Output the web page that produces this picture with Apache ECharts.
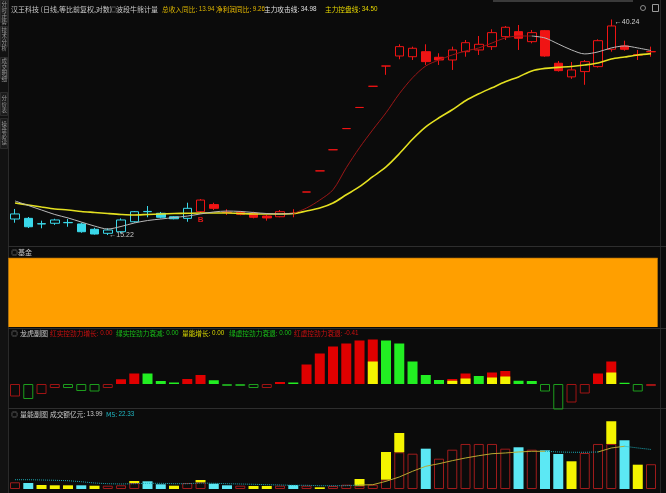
<!DOCTYPE html>
<html><head><meta charset="utf-8">
<script src="https://cdn.jsdelivr.net/npm/echarts@6/dist/echarts.min.js"></script>
<style>html,body{margin:0;padding:0;background:#0b0b0b;overflow:hidden}#c{width:666px;height:493px}</style>
</head><body><div id="c"></div>
<script>
// ---------- data ----------
const days = ['1','2','3','4','5','6','7','8','9','10','11','12','13','14','15','16','17','18','19','20','21','22','23','24','25','26','27','28','29','30','31','32','33','34','35','36','37','38','39','40','41','42','43','44','45','46','47','48','49'];
const openP  = [16.36,16.41,16.02,16.05,16.09,16.00,15.62,15.34,15.45,16.16,16.91,16.79,16.53,16.41,16.91,17.46,16.88,16.86,16.79,16.58,16.53,16.77,18.48,20.33,22.36,24.60,27.06,29.77,32.62,34.13,34.02,34.80,33.93,33.52,34.80,35.07,35.60,37.24,38.09,36.41,38.26,33.03,31.06,31.81,32.53,35.18,35.71,34.32,34.78];
const closeP = [16.74,15.80,16.00,16.29,16.11,15.45,15.29,15.57,16.29,16.91,16.93,16.49,16.38,17.17,17.82,17.17,16.85,16.71,16.49,16.44,16.91,16.80,18.48,20.33,22.36,24.60,27.06,29.77,32.62,35.60,35.34,33.27,33.52,35.07,36.24,35.98,37.92,38.85,36.97,37.92,34.13,31.95,32.05,33.27,36.57,39.08,35.18,34.27,34.82];
const lowP   = [16.09,15.71,15.69,15.93,15.80,15.38,15.25,15.22,15.34,16.09,16.49,16.41,16.34,16.16,16.81,17.04,16.66,16.64,16.41,16.24,16.49,16.49,18.48,20.33,22.36,24.60,27.06,29.77,31.35,33.63,33.52,32.78,32.78,32.05,34.02,34.29,35.07,36.68,35.07,36.14,34.02,31.81,30.79,29.97,32.39,34.80,34.96,33.52,34.02];
const highP  = [17.12,16.51,16.24,16.38,16.36,16.09,15.73,15.69,16.41,16.96,17.35,16.89,16.58,17.61,17.90,17.61,17.10,16.97,16.91,16.68,17.04,17.10,18.48,20.33,22.36,24.60,27.06,29.77,32.62,35.98,35.60,35.98,34.55,35.60,36.68,37.35,38.50,39.08,39.25,38.38,38.38,33.37,33.22,33.52,36.80,40.24,36.57,35.07,35.60];
const band = ['bear','bear','bear','bear','bear','bear','bear','bear','bear','bear','bear','bear','bear','bear','bull','bull','bull','bull','bull','bull','bull','bull','bull','bull','bull','bull','bull','bull','bull','bull','bull','bull','bull','bull','bull','bull','bull','bull','bull','bull','bull','bull','bull','bull','bull','bull','bull','bull','bull'];
// 主力攻击线 (short line) and 主力控盘线 (yellow line)
const attackLine  = [17.75,17.39,17.04,16.70,16.44,16.14,15.85,15.64,15.82,16.07,16.25,16.36,16.47,16.58,16.74,16.89,16.96,16.93,16.85,16.77,16.74,16.77,17.19,17.82,18.67,20.62,22.57,24.47,26.42,28.78,30.93,32.63,33.52,34.29,34.91,35.39,36.19,37.02,37.35,37.35,37.02,36.03,35.07,34.45,34.76,35.39,35.71,35.39,34.98];
const controlLine = [17.59,17.43,17.27,17.12,17.04,16.93,16.85,16.77,16.70,16.66,16.70,16.74,16.77,16.79,16.81,16.81,16.81,16.77,16.74,16.74,16.74,16.77,16.96,17.19,17.59,18.25,18.93,19.80,20.70,21.96,23.45,24.80,25.83,26.78,27.89,28.78,29.57,30.38,31.06,31.91,32.27,32.42,32.56,32.78,33.07,33.67,33.98,34.29,34.50];
const attackRiseFrom = 21, attackRiseTo = 39; // segment drawn in dark red
// 基金 panel
const fund = [1,1,1,1,1,1,1,1,1,1,1,1,1,1,1,1,1,1,1,1,1,1,1,1,1,1,1,1,1,1,1,1,1,1,1,1,1,1,1,1,1,1,1,1,1,1,1,1,1];
// 龙虎副图
const lhType = ['红虚','绿虚','红虚','红虚','绿虚','绿虚','绿虚','红虚','红实','红实','绿实','绿实','绿实','红实','红实','绿实','绿虚','绿虚','绿虚','红虚','红实','绿实','红实','红实','红实','红实','红实','红实','绿实','绿实','绿实','绿实','绿实','红实','红实','绿实','红实','红实','绿实','绿实','绿虚','绿虚','红虚','红虚','红实','红实','绿实','绿虚','红虚'];
const lhValue = [-2.5,-3.0,-2.0,-0.8,-0.8,-1.4,-1.5,-0.8,0.95,2.1,2.1,0.6,0.3,1.0,1.8,0.75,-0.4,-0.4,-0.8,-0.8,0.4,0.3,3.9,6.1,7.5,8.1,8.7,8.9,8.7,8.1,4.5,1.8,0.8,1.0,2.1,1.6,2.3,2.6,0.65,0.6,-1.5,-5.1,-3.7,-1.9,2.1,4.5,0.25,-1.5,-0.41];
const lhYellow = [0,0,0,0,0,0,0,0,0,0,0,0,0,0,0,0,0,0,0,0,0,0,0,0,0,0,0,4.5,0,0,0,0,0,0.65,1.1,0,1.3,1.5,0,0,0,0,0,0,0,2.3,0,0,0];
// 量能副图 (成交额 亿元)
const amount = [3.79,3.39,2.26,2.09,2.09,2.09,1.86,1.86,2.09,4.52,4.35,2.66,1.86,3.39,5.09,2.99,2.09,1.86,1.70,1.70,1.86,2.26,1.86,0.96,1.70,2.43,5.65,2.43,20.90,31.64,19.94,22.77,17.12,22.20,25.43,25.43,25.43,22.77,23.56,22.20,21.87,19.78,15.65,20.34,25.43,38.26,27.52,13.73,13.99];
const amountExtra = [0,0,0,0,0,0,0,0,0,1.13,0,0,0,0,1.30,0,0,0,0,0,0,0,0,0,0,0,3.79,0,15.65,10.90,0,0,0,0,0,0,0,0,0,0,0,0,0,0,0,12.83,0,0,0];
const amountKind = ['up','down','shrink','shrink','shrink','down','shrink','up','up','up','down','down','shrink','up','up','down','down','up','shrink','shrink','up','down','up','shrink','up','up','up','up','up','up','up','down','up','up','up','up','up','up','down','up','down','down','shrink','up','up','up','down','shrink','up'];
const m5 = [5.25,5.25,5.09,4.92,4.69,4.12,3.39,2.99,2.83,2.99,3.22,3.22,2.99,2.99,3.39,3.22,2.99,2.83,2.66,2.43,2.26,2.09,2.09,1.86,1.86,1.86,2.26,2.43,4.35,6.78,10.00,12.83,14.29,15.99,17.52,18.81,19.94,20.34,20.91,21.30,21.30,20.91,20.74,20.74,20.91,23.17,24.13,23.17,22.33];
const m5RiseRanges = [[26,40],[44,46]];

// ---------- build ----------
const N = days.length;
const F = '"Noto Sans CJK SC", "Noto Sans", sans-serif';
const FN = '"Liberation Sans", Arial, sans-serif';
const RED = '#f01414', CYAN = '#3ad8ea', BG = '#0b0b0b', ORANGE = '#ff9f00';
const candle = days.map((d,i)=>{
  const c = band[i]==='bull' ? RED : CYAN;
  const up = closeP[i] > openP[i] || (closeP[i] === openP[i] && i>0 && closeP[i] > closeP[i-1]);
  const fill = up ? BG : c;
  return {value:[openP[i],closeP[i],lowP[i],highP[i]],
          itemStyle:{color:fill, color0:fill, borderColor:c, borderColor0:c, borderWidth:1}};
});
const attackGray = attackLine.map((v,i)=> (i<=attackRiseFrom||i>=attackRiseTo)?v:null);
const attackRed  = attackLine.map((v,i)=> (i>=attackRiseFrom&&i<=attackRiseTo)?v:null);
const inRise = i => m5RiseRanges.some(r=>i>=r[0]&&i<=r[1]);
const inFall = i => !m5RiseRanges.some(r=>i>r[0]&&i<r[1]);
const m5Rise = m5.map((v,i)=> inRise(i)?v:null);
const m5Fall = m5.map((v,i)=> inFall(i)?v:null);
const pick = (arr, t, key) => arr.map((v,i)=> key[i]===t ? v : null);
const volUp = amount.map((v,i)=> amountKind[i]==='up' ? +(v-amountExtra[i]).toFixed(2) : null);
const volDown = pick(amount,'down',amountKind);
const volShrink = pick(amount,'shrink',amountKind);
const volTop = amountExtra.map(v=> v>0 ? v : null);
const lhYellowData = lhYellow.map(v=> v>0 ? v : null);

const GL = 8.4, GW = 649.25;
const grids = [
  {left:GL, width:GW, top:12, height:230},
  {left:GL, width:GW, top:258, height:69},
  {left:GL, width:GW, top:335, height:75},
  {left:GL, width:GW, top:421, height:68}
];
const xAxes = grids.map((g,k)=>({type:'category', gridIndex:k, data:days, boundaryGap:k!==1, show:false}));
const hiddenY = {show:false, splitLine:{show:false}};
const yAxes = [
  Object.assign({type:'log', gridIndex:0, min:14.75, max:41.62, logBase:10}, hiddenY),
  Object.assign({type:'value', gridIndex:1, min:0, max:1}, hiddenY),
  Object.assign({type:'value', gridIndex:2, min:-5.2, max:9.8}, hiddenY),
  Object.assign({type:'value', gridIndex:3, min:0, max:38.4}, hiddenY)
];
const lhBar = (name, type, filled, color) => ({
  name, type:'bar', xAxisIndex:2, yAxisIndex:2, barWidth:10, barGap:'-100%',
  data: pick(lhValue, type, lhType),
  itemStyle: filled ? {color} : {color:'rgba(0,0,0,0)', borderColor:color, borderWidth:1},
  silent:true
});
const lastIdx = N-1;
const txt = (x,y,text,fill) => ({type:'text', x, y, silent:true,
  style:{text, fill, fontSize:7, fontFamily:F, verticalAlign:'middle'}});
const rt = (x,y,label,num,fill) => ({type:'text', x, y, silent:true,
  style:{text:'{a|'+label+'}{b|'+num+'}', verticalAlign:'middle',
    rich:{a:{fill, color:fill, fontSize:6.7, fontFamily:F}, b:{fill, color:fill, fontSize:6.3, fontFamily:FN}}}});
const vtxt = (y,text) => ({type:'text', x:1.5, y, silent:true,
  style:{text:text.split('').join('\n'), fill:'#9a9a9a', fontSize:5.5, fontFamily:F, lineHeight:6}});
const tab = (y,h) => ({type:'rect', shape:{x:0.5,y:y+0.5,width:7,height:h}, style:{fill:'#1c1c1c', stroke:'#2c2c2c'}, silent:true});

const option = {
  backgroundColor:BG,
  animation:false,
  grid: grids,
  xAxis: xAxes,
  yAxis: yAxes,
  series: [
    {type:'candlestick', xAxisIndex:0, yAxisIndex:0, data:candle, barWidth:9,
     markPoint:{symbol:'circle', symbolSize:1, itemStyle:{color:'rgba(0,0,0,0)'},
       data:[
        {coord:[days[7],15.22], label:{show:true, position:'right', distance:1, formatter:'←15.22', color:'#c8c8c8', fontSize:7, fontFamily:FN}},
        {coord:[days[45],40.24], label:{show:true, position:'right', distance:3, offset:[0,3], formatter:'←40.24', color:'#d0d0d0', fontSize:7, fontFamily:FN}},
        {coord:[days[14],16.29], label:{show:true, position:'inside', formatter:'B', color:'#e01818', fontSize:8, fontWeight:'bold', fontFamily:FN}}
       ]}},
    {type:'line', xAxisIndex:0, yAxisIndex:0, data:controlLine, symbol:'none', smooth:0.3, lineStyle:{color:'#e4e020', width:1.6}},
    {type:'line', xAxisIndex:0, yAxisIndex:0, data:attackGray, symbol:'none', smooth:0.3, lineStyle:{color:'#b8b8b8', width:1}},
    {type:'line', xAxisIndex:0, yAxisIndex:0, data:attackRed, symbol:'none', smooth:0.3, lineStyle:{color:'#9a1616', width:1}},
    {type:'line', xAxisIndex:1, yAxisIndex:1, data:fund, symbol:'none', lineStyle:{color:'#c87800', width:1}, areaStyle:{color:ORANGE, opacity:1}},
    lhBar('红实','红实',true,'#e00000'),
    lhBar('绿实','绿实',true,'#22ee22'),
    Object.assign(lhBar('量能增长','红实',true,'#f4f400'), {data:lhYellowData}),
    lhBar('绿虚','绿虚',false,'#1d9e1d'),
    lhBar('红虚','红虚',false,'#a01414'),
    {type:'bar', xAxisIndex:3, yAxisIndex:3, stack:'v', data:volUp, barWidth:10, barGap:'-100%', itemStyle:{color:'rgba(0,0,0,0)', borderColor:'#a01c1c', borderWidth:1}},
    {type:'bar', xAxisIndex:3, yAxisIndex:3, stack:'v', data:volDown, barWidth:10, barGap:'-100%', itemStyle:{color:'#5ce8f4'}},
    {type:'bar', xAxisIndex:3, yAxisIndex:3, stack:'v', data:volShrink, barWidth:10, barGap:'-100%', itemStyle:{color:'#f4f400'}},
    {type:'bar', xAxisIndex:3, yAxisIndex:3, stack:'v', data:volTop, barWidth:10, barGap:'-100%', itemStyle:{color:'#f4f400'}},
    {type:'line', xAxisIndex:3, yAxisIndex:3, data:m5Fall, symbol:'none', lineStyle:{color:'#1aa8b4', width:1, type:'dotted'}},
    {type:'line', xAxisIndex:3, yAxisIndex:3, data:m5Rise, symbol:'none', lineStyle:{color:'#b8a830', width:1}}
  ],
  graphic: [
    {type:'rect', shape:{x:0,y:0,width:8,height:493}, style:{fill:'#121212'}, silent:true},
    tab(0,22), tab(26,20), tab(57,21), tab(92,23), tab(118,30),
    vtxt(1,'分时走势'), vtxt(27,'技术分析'), vtxt(58,'成交明细'), vtxt(95,'分价表'), vtxt(121,'操盘必读'),
    {type:'line', shape:{x1:8.5,y1:0,x2:8.5,y2:493}, style:{stroke:'#2a2a2a', lineWidth:1}, silent:true},
    {type:'line', shape:{x1:660.5,y1:0,x2:660.5,y2:493}, style:{stroke:'#262626', lineWidth:1}, silent:true},
    {type:'line', shape:{x1:8,y1:246.5,x2:666,y2:246.5}, style:{stroke:'#2e2e2e', lineWidth:1}, silent:true},
    {type:'line', shape:{x1:8,y1:328.5,x2:666,y2:328.5}, style:{stroke:'#2e2e2e', lineWidth:1}, silent:true},
    {type:'line', shape:{x1:8,y1:408.5,x2:666,y2:408.5}, style:{stroke:'#2e2e2e', lineWidth:1}, silent:true},
    {type:'rect', shape:{x:493,y:0,width:140,height:2}, style:{fill:'#3a3a3a'}, silent:true},
    {type:'circle', shape:{cx:643,cy:8,r:2.5}, style:{fill:'none', stroke:'#8a8a8a', lineWidth:1}, silent:true},
    {type:'rect', shape:{x:652.5,y:4.5,width:6,height:7}, style:{fill:'none', stroke:'#9a9a9a', lineWidth:1}, silent:true},
    txt(11,9,'汉王科技 (日线,等比前复权,对数)','#c8c8c8'),
    txt(110,9,'◎','#8a8a8a'),
    txt(116,9,'波段牛熊计量','#c8c8c8'),
    rt(162,9,'总收入同比: ','13.94','#d9b300'),
    rt(216,9,'净利润同比: ','9.26','#e6b800'),
    rt(264,9,'主力攻击线: ',attackLine[lastIdx].toFixed(2),'#e0e0e0'),
    rt(325,9,'主力控盘线: ',controlLine[lastIdx].toFixed(2),'#e8d800'),
    txt(11,252,'◎','#8a8a8a'),
    txt(18,252,'基金','#c8c8c8'),
    txt(11,333,'◎','#8a8a8a'),
    txt(20,333,'龙虎副图','#c8c8c8'),
    rt(50,333,'红实控劲力增长: ','0.00','#cc1010'),
    rt(116,333,'绿实控劲力衰减: ','0.00','#18c018'),
    rt(182,333,'量能增长: ','0.00','#d8d800'),
    rt(229,333,'绿虚控劲力衰退: ','0.00','#18c018'),
    rt(294,333,'红虚控劲力衰退: ',lhValue[lastIdx].toFixed(2),'#cc1010'),
    txt(11,414,'◎','#8a8a8a'),
    txt(20,414,'量能副图','#c8c8c8'),
    rt(50,414,'成交额亿元: ',amount[lastIdx].toFixed(2),'#c8c8c8'),
    rt(106,414,'M5: ',m5[lastIdx].toFixed(2),'#20b8c4')
  ]
};
const chart = echarts.init(document.getElementById('c'), null, {renderer:'canvas'});
chart.setOption(option);
</script>
</body></html>
